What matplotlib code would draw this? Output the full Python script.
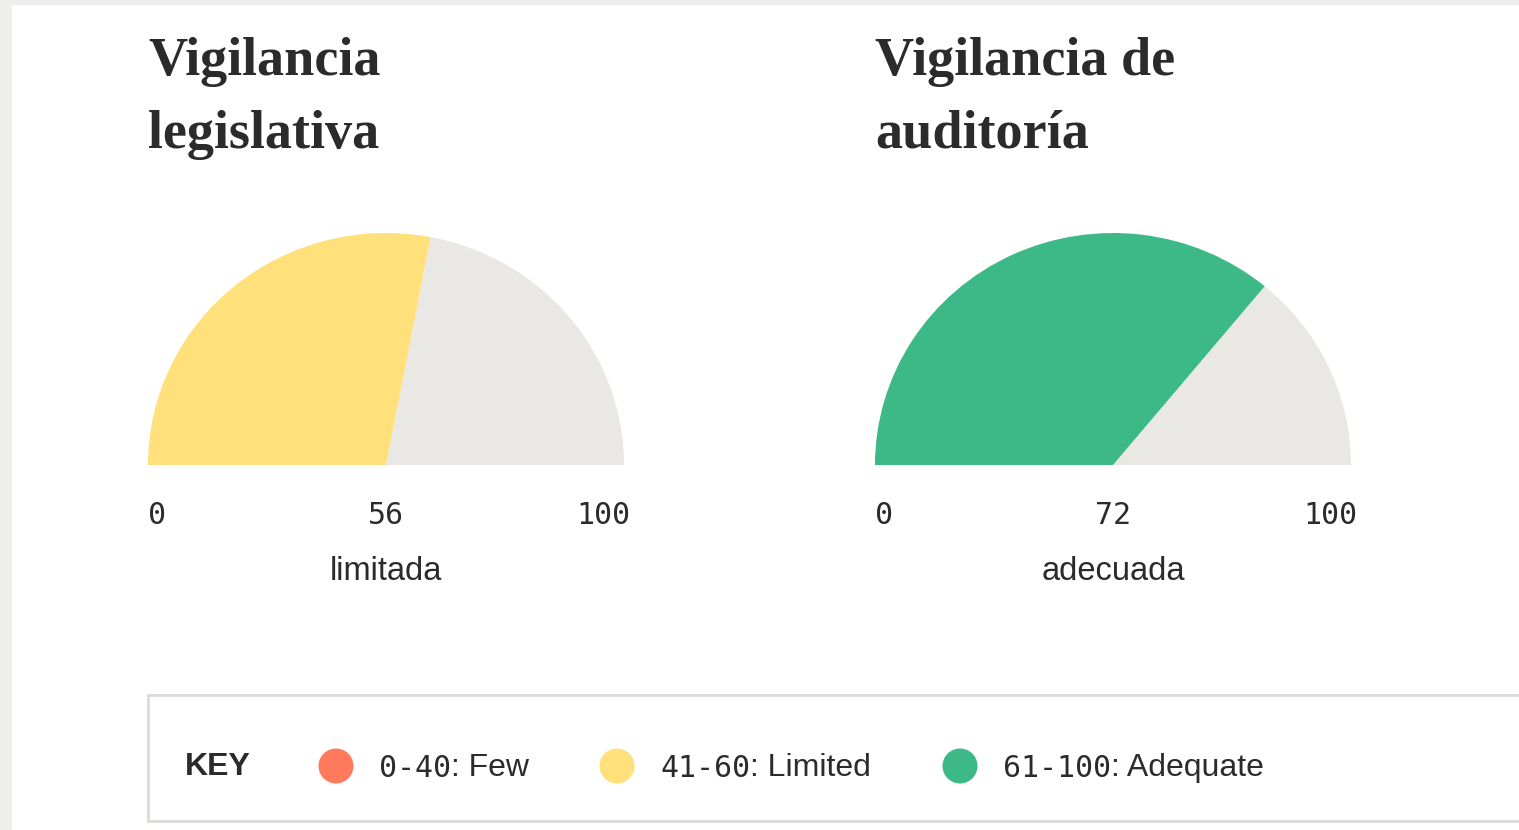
import matplotlib
matplotlib.use('Agg')
import matplotlib.pyplot as plt
from matplotlib.patches import Wedge, Rectangle, Circle

# gauge data
titles = ["Vigilancia\nlegislativa", "Vigilancia de\nauditoría"]
scores = [56, 72]
ratings = ["limitada", "adecuada"]

# key
key_ranges = ["0-40", "41-60", "61-100"]
key_names = [": Few", ": Limited", ": Adequate"]
key_colors = ["#FF7A5C", "#FFE07A", "#3DB988"]
key_limits = [40, 60, 100]

track_color = "#E9E8E4"
text_color = "#2B2B2B"
W, H = 1519, 830

def score_color(v):
    for lim, c in zip(key_limits, key_colors):
        if v <= lim:
            return c
    return key_colors[-1]

fig = plt.figure(figsize=(W / 100, H / 100), dpi=100)
fig.patch.set_facecolor("#EEEEEC")

# page in pixel coordinates
bg = fig.add_axes([0, 0, 1, 1])
bg.set_xlim(0, W)
bg.set_ylim(H, 0)
bg.axis("off")
bg.add_patch(Rectangle((12, 5), W, H, facecolor="white", edgecolor="none"))

gauge_cx = [386, 1113]
radius_x = 238
top_y, base_y = 233, 465

for i in range(len(scores)):
    cx = gauge_cx[i]
    ax = fig.add_axes([(cx - radius_x) / W, (H - base_y) / H,
                       2 * radius_x / W, (base_y - top_y) / H])
    ax.set_xlim(-1, 1)
    ax.set_ylim(0, 1)
    ax.axis("off")
    split = 180 - scores[i] * 1.8
    ax.add_patch(Wedge((0, 0), 1, 0, split, facecolor=track_color, edgecolor="none"))
    ax.add_patch(Wedge((0, 0), 1, split, 180, facecolor=score_color(scores[i]),
                       edgecolor="none"))

    bg.text(cx - radius_x, 75, titles[i].split("\n")[0], fontsize=39,
            family="Liberation Serif", fontweight="bold", color=text_color,
            va="baseline", ha="left")
    bg.text(cx - radius_x, 148, titles[i].split("\n")[1], fontsize=39,
            family="Liberation Serif", fontweight="bold", color=text_color,
            va="baseline", ha="left")
    mono = dict(fontsize=21.5, family="DejaVu Sans Mono", color=text_color, va="center")
    bg.text(cx - radius_x, 515, "0", ha="left", **mono)
    bg.text(cx, 515, str(scores[i]), ha="center", **mono)
    bg.text(cx + radius_x + 6, 515, "100", ha="right", **mono)
    bg.text(cx, 571, ratings[i], fontsize=23.5, family="Liberation Sans",
            color=text_color, ha="center", va="center")

# key box
bg.add_patch(Rectangle((148, 695), W, 126, facecolor="white",
                       edgecolor="#DCDAD5", linewidth=2))
bg.text(185, 767, "KEY", fontsize=23, family="Liberation Sans", fontweight="bold",
        color=text_color, va="center", ha="left")

fig.canvas.draw()
renderer = fig.canvas.get_renderer()
dot_x = [336, 617, 960]
for i in range(len(key_ranges)):
    bg.add_patch(Circle((dot_x[i], 766), 17.5, facecolor=key_colors[i], edgecolor="none"))
    t = bg.text(dot_x[i] + 43, 768, key_ranges[i], fontsize=21.5, family="DejaVu Sans Mono",
                color=text_color, va="center", ha="left")
    bb = t.get_window_extent(renderer)
    x_end = bg.transData.inverted().transform((bb.x1, bb.y0))[0]
    bg.text(x_end, 768, key_names[i], fontsize=23, family="Liberation Sans",
            color=text_color, va="center", ha="left")

fig.savefig("out.png", dpi=100, facecolor=fig.get_facecolor())
